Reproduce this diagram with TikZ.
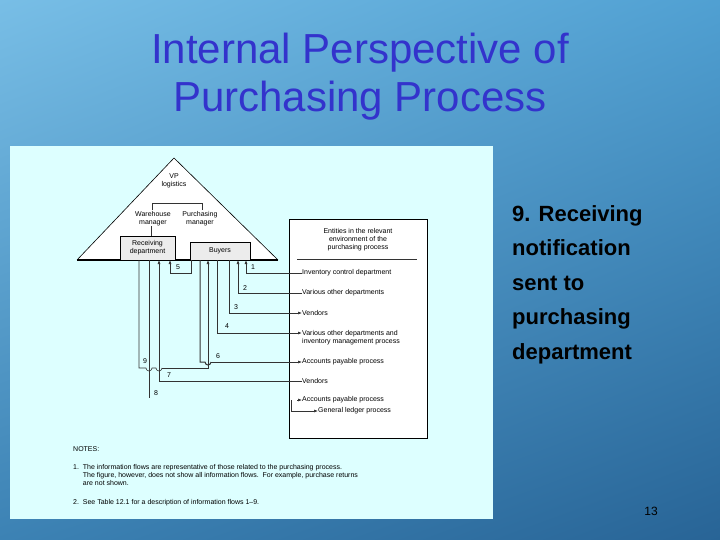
\documentclass[tikz,border=0pt]{standalone}
\usepackage{fontspec}
\setmainfont{Liberation Sans}
\usetikzlibrary{arrows.meta,shadings}
\definecolor{titleblue}{HTML}{3333CC}
\definecolor{panel}{HTML}{DDFFFF}
\definecolor{bgtl}{RGB}{120,190,230}
\definecolor{bgtr}{RGB}{80,160,210}
\definecolor{bgbl}{RGB}{60,130,180}
\definecolor{bgbr}{RGB}{40,100,150}
\begin{document}
\begin{tikzpicture}[x=1pt,y=-1pt,
  lbl/.style={font=\fontsize{7}{8}\selectfont, inner sep=0pt, align=center},
  ent/.style={font=\fontsize{7}{8}\selectfont, inner sep=0pt, anchor=west, align=left},
  flow/.style={draw=black!80, line width=0.6pt},
  arr/.style={flow, -{Latex[length=4pt,width=3pt]}},
  box/.style={draw, line width=0.8pt, fill=gray!15}]
\useasboundingbox (0,0) rectangle (720,540);
\shade[upper left=bgtl, upper right=bgtr, lower left=bgbl, lower right=bgbr] (0,0) rectangle (720,540);

\node[titleblue, font=\fontsize{42}{48}\selectfont, align=center] (title) at (360,77) {Internal Perspective of\\Purchasing Process};

\fill[panel] (10,146) rectangle (493,519);

% pyramid
\draw[fill=white, line width=0.6pt] (77,260) -- (174,158) -- (278,260);
\draw[line width=2pt] (77,260) -- (278,260);
\node[lbl] (vp) at (174,181) {VP\\logistics};
\node[lbl] (wm) at (153,219) {Warehouse\\manager};
\node[lbl] (pm) at (200,219) {Purchasing\\manager};
\draw[flow] (152,210) -- (152,203) -- (202,203) -- (202,210);
\node[box, minimum width=55pt, minimum height=24pt, lbl, fill=gray!15, draw] (recv) at (147.5,248) {Receiving\\department};
\node[box, minimum width=60pt, minimum height=18pt, lbl, fill=gray!15, draw] (buy) at (220,251) {Buyers};
\draw[flow] (wm.south -| 151,0) -- (recv.north -| 151,0);

% environment box
\draw[fill=white, line width=0.6pt] (289,219) rectangle (427,438);
\node[lbl] (envhead) at (358,240) {Entities in the relevant\\environment of the\\purchasing process};
\draw[flow] (297,259) -- (417,259);
\node[ent] (e1) at (302,273) {Inventory control department};
\node[ent] (e2) at (302,293) {Various other departments};
\node[ent] (e3) at (302,313) {Vendors};
\node[ent] (e4) at (302,337.5) {Various other departments and\\inventory management process};
\node[ent] (e6) at (302,362) {Accounts payable process};
\node[ent] (e7) at (302,381) {Vendors};
\node[ent] (e8) at (302,400) {Accounts payable process};
\node[ent] (e9) at (318,411) {General ledger process};

% flows
\draw[arr, line width=1pt] (e1.west) -- (246,273) -- (246,260);
\draw[arr] (e2.west) -- (238,293) -- (238,260);
\draw[arr] (229,260) -- (229,313) -- (e3.west);
\draw[arr, line width=1pt] (217,260) -- (217,333) -- (e4.west |- 0,333);
\draw[flow, line width=1pt] (200,260) -- (200,362) -- (205,362) arc (180:0:3) ;
\draw[arr] (211,362) -- (e6.west);
\draw[arr] (191,260) -- (191,273) -- (170,273) -- (170,260);
\draw[flow] (139,260) -- (139,368) -- (146,368) arc (180:0:3) -- (156,368) arc (180:0:3);
\draw[arr] (162,368) -- (208,368) -- (208,260);
\draw[arr] (e7.west) -- (159,381) -- (159,260);
\draw[flow] (149,260) -- (149,398);
\draw[arr] (297,400) -- (e8.west);
\draw[arr] (291,400) -- (291,411) -- (e9.west);
\node[lbl] (n1) at (253,267) {1};
\node[lbl] (n2) at (245,288) {2};
\node[lbl] (n3) at (236,307) {3};
\node[lbl] (n4) at (227,326) {4};
\node[lbl] (n5) at (178,267) {5};
\node[lbl] (n6) at (218,356) {6};
\node[lbl] (n7) at (169,375) {7};
\node[lbl] (n8) at (156,393) {8};
\node[lbl] (n9) at (145,361) {9};

% notes
\node[ent] (notes) at (73,449) {NOTES:};
\node[ent, anchor=north west] (note1) at (73,464) {1.\ \ The information flows are representative of those related to the purchasing process.\\
\phantom{1.}\ \ The figure, however, does not show all information flows.\ \ For example, purchase returns\\
\phantom{1.}\ \ are not shown.};
\node[ent] (note2) at (73,503) {2.\ \ See Table 12.1 for a description of information flows 1--9.};

\node[anchor=north west, font=\bfseries\fontsize{22}{34.5}\selectfont, align=left, inner sep=0pt] (side) at (512,205) {9. Receiving\\notification\\sent to\\purchasing\\department};
\node[font=\rmfamily\fontsize{12}{14}\selectfont] (page) at (651,511) {13};
\end{tikzpicture}
\end{document}
